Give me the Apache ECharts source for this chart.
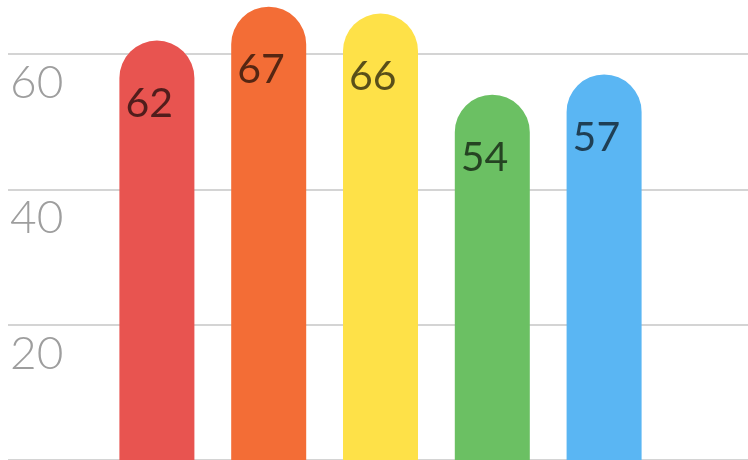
<!DOCTYPE html>
<html>
<head>
<meta charset="utf-8">
<script src="https://cdn.jsdelivr.net/npm/echarts@6/dist/echarts.min.js"></script>
<style>
  html, body { margin: 0; padding: 0; background: #ffffff; }
  #chart { width: 748px; height: 460px; }
</style>
</head>
<body>
<div id="chart"></div>
<script>
// Categories and values for the five bars
const categories = ['A', 'B', 'C', 'D', 'E'];
const values = [62, 67, 66, 54, 57];
const barColors = ['#E85450', '#F36D36', '#FEE148', '#6BC063', '#5AB6F3'];

// Value axis range and tick step
const yMin = 0;
const yMax = 68;
const yInterval = 20;

const chart = echarts.init(document.getElementById('chart'), null, { renderer: 'canvas' });

// Shared vertical placement for both grids so the bars line up with the guide lines
const gridTop = 0;
const gridBottom = 0;

const option = {
  animation: false,
  backgroundColor: '#ffffff',
  grid: [
    // full-width grid carrying the horizontal guide lines and tick labels
    { left: 8, right: 0, top: gridTop, bottom: gridBottom, containLabel: false },
    // narrower grid carrying the bars
    { left: 101, right: 88, top: gridTop, bottom: gridBottom, containLabel: false }
  ],
  xAxis: [
    { gridIndex: 0, type: 'category', data: categories, show: false },
    {
      gridIndex: 1, type: 'category', data: categories,
      axisLine: { show: false }, axisTick: { show: false }, axisLabel: { show: false }
    }
  ],
  yAxis: [
    {
      gridIndex: 0, type: 'value', min: yMin, max: yMax, interval: yInterval,
      axisLine: { show: false }, axisTick: { show: false },
      splitLine: { show: true, showMaxLine: false, lineStyle: { color: '#d4d4d4', width: 2 } },
      axisLabel: {
        inside: true,
        margin: 2,
        align: 'left',
        verticalAlign: 'top',
        padding: [6, 0, 0, 0],
        color: '#9e9e9e',
        fontFamily: 'Lato',
        fontWeight: 300,
        fontSize: 46,
        formatter: function (v) { return v === 0 || v === yMax ? '' : String(v); }
      }
    },
    {
      gridIndex: 1, type: 'value', min: yMin, max: yMax, interval: yInterval,
      show: false, splitLine: { show: false }
    }
  ],
  series: [
    {
      type: 'bar',
      xAxisIndex: 1,
      yAxisIndex: 1,
      barWidth: 75,
      data: values.map(function (v, i) {
        return { value: v, itemStyle: { color: barColors[i] } };
      }),
      itemStyle: { borderRadius: [38, 38, 0, 0] },
      label: {
        show: true,
        position: 'insideTopLeft',
        distance: 5,
        offset: [1, 38],
        color: 'rgba(0,0,0,0.65)',
        fontFamily: 'Lato',
        fontSize: 41,
        fontWeight: 400
      }
    }
  ]
};

chart.setOption(option);
</script>
</body>
</html>
